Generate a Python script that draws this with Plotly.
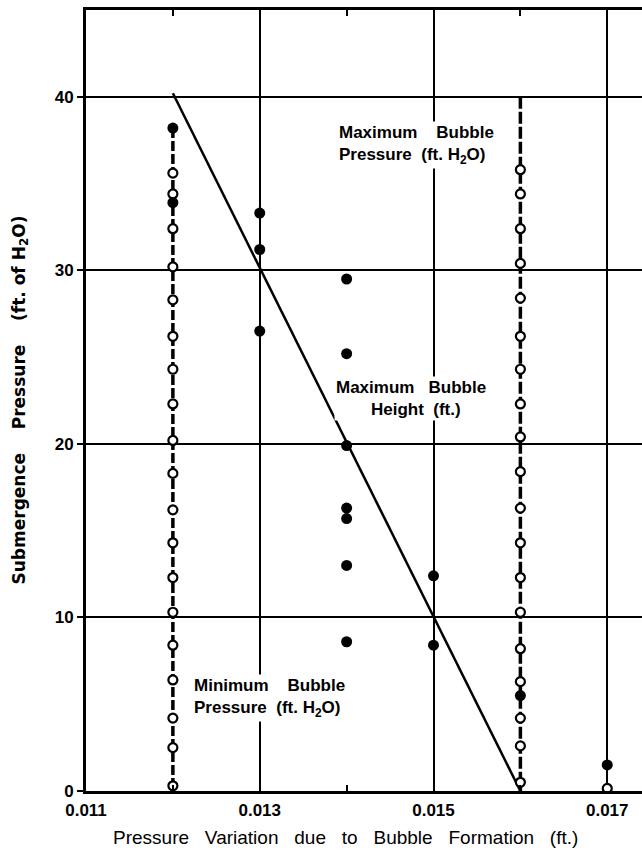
import plotly.graph_objects as go

# ---- data ----
X_MIN_P = 0.012
MIN_P_Y = [0.3, 2.5, 4.2, 6.4, 8.4, 10.3, 12.3, 14.3, 16.2, 18.3, 20.2,
           22.3, 24.3, 26.2, 28.3, 30.2, 32.4, 34.4, 35.6]
MIN_P_LINE_Y = [38.2, 0.0]

X_MAX_P = 0.016
MAX_P_Y = [0.5, 2.6, 4.2, 6.3, 8.2, 10.3, 12.3, 14.3, 16.3, 18.4, 20.4,
           22.3, 24.3, 26.2, 28.4, 30.4, 32.4, 34.4, 35.8]
MAX_P_LINE_Y = [40.0, 0.0]

OPEN_EXTRA_X = [0.017]
OPEN_EXTRA_Y = [0.15]

HEIGHT_X = [0.012, 0.012,
            0.013, 0.013, 0.013,
            0.014, 0.014, 0.014, 0.014, 0.014, 0.014, 0.014,
            0.015, 0.015,
            0.016,
            0.017]
HEIGHT_Y = [38.2, 33.9,
            33.3, 31.2, 26.5,
            29.5, 25.2, 19.9, 16.3, 15.7, 13.0, 8.6,
            12.4, 8.4,
            5.5,
            1.5]

FIT_X = [0.012, 0.016]
FIT_Y = [40.2, 0.0]

X_TICKS = [0.011, 0.013, 0.015, 0.017]
X_TICK_TEXT = ["0.011", "0.013", "0.015", "0.017"]
X_MINOR = [0.012, 0.014, 0.016]
Y_TICKS = [0, 10, 20, 30, 40]

NB = "\u00a0"
BOLD = dict(family="Liberation Sans", size=17, color="black", weight="bold")

fig = go.Figure()

# vertical connecting lines for the pressure series
fig.add_trace(go.Scatter(x=[X_MIN_P] * len(MIN_P_LINE_Y), y=MIN_P_LINE_Y, mode="lines",
                         line=dict(color="black", width=3.5, dash="10px,3px"),
                         hoverinfo="skip"))
fig.add_trace(go.Scatter(x=[X_MAX_P] * len(MAX_P_LINE_Y), y=MAX_P_LINE_Y, mode="lines",
                         line=dict(color="black", width=3.5, dash="12px,3px"),
                         hoverinfo="skip"))
# fitted line for bubble height
fig.add_trace(go.Scatter(x=FIT_X, y=FIT_Y, mode="lines",
                         line=dict(color="black", width=2.5), hoverinfo="skip"))

open_marker = dict(symbol="circle", size=9, color="white",
                   line=dict(color="black", width=2.2))
fig.add_trace(go.Scatter(x=[X_MIN_P] * len(MIN_P_Y), y=MIN_P_Y, mode="markers",
                         marker=open_marker, cliponaxis=False,
                         name="Minimum Bubble Pressure"))
fig.add_trace(go.Scatter(x=[X_MAX_P] * len(MAX_P_Y), y=MAX_P_Y, mode="markers",
                         marker=open_marker, cliponaxis=False,
                         name="Maximum Bubble Pressure"))
fig.add_trace(go.Scatter(x=OPEN_EXTRA_X, y=OPEN_EXTRA_Y, mode="markers",
                         marker=open_marker, cliponaxis=False, showlegend=False))
fig.add_trace(go.Scatter(x=HEIGHT_X, y=HEIGHT_Y, mode="markers",
                         marker=dict(symbol="circle", size=11, color="black"),
                         cliponaxis=False, name="Maximum Bubble Height"))

ann_font = dict(family="Liberation Sans", size=17, color="black", weight="bold")
annotations = [
    dict(x=0.01389, y=37.2, xref="x", yref="y", xanchor="left", yanchor="middle",
         align="left", showarrow=False, bgcolor="white", borderpad=1, font=ann_font,
         text="Maximum" + NB * 4 + "Bubble<br>Pressure" + NB * 2 + "(ft." + NB + "H<sub>2</sub>O)"),
    dict(x=0.01474, y=22.6, xref="x", yref="y", xanchor="center", yanchor="middle",
         align="center", showarrow=False, bgcolor="white", borderpad=1, font=ann_font,
         text="Maximum" + NB * 3 + "Bubble<br>" + NB * 2 + "Height" + NB * 2 + "(ft.)"),
    dict(x=0.01222, y=5.35, xref="x", yref="y", xanchor="left", yanchor="middle",
         align="left", showarrow=False, bgcolor="white", borderpad=1, font=ann_font,
         text="Minimum" + NB * 4 + "Bubble<br>Pressure" + NB * 2 + "(ft." + NB + "H<sub>2</sub>O)"),
    # y-axis title
    dict(x=-0.1187, y=0.5, xref="paper", yref="paper", xanchor="center", yanchor="middle",
         textangle=-90, showarrow=False,
         font=dict(family="DejaVu Sans", size=17, color="black", weight="bold"),
         text="Submergence" + NB * 4 + "Pressure" + NB * 4 + "(ft." + NB + "of" + NB + "H<sub>2</sub>O)"),
    # x-axis title
    dict(x=0.4676, y=-0.060, xref="paper", yref="paper", xanchor="center", yanchor="middle",
         showarrow=False,
         font=dict(family="Liberation Sans", size=19, color="black"),
         text=(NB * 3).join(["Pressure", "Variation", "due", "to", "Bubble", "Formation", "(ft.)"])),
]

fig.update_layout(
    width=642, height=860,
    margin=dict(l=86, r=0, t=10, b=69),
    paper_bgcolor="white", plot_bgcolor="white",
    showlegend=False,
    annotations=annotations,
    xaxis=dict(range=[0.011, 0.0174], tickvals=X_TICKS, ticktext=X_TICK_TEXT,
               showgrid=True, gridcolor="black", gridwidth=2,
               showline=True, linecolor="black", linewidth=3, mirror="ticks",
               ticks="", tickfont=BOLD, zeroline=False, ticklabelstandoff=2,
               minor=dict(tickvals=X_MINOR, ticks="inside", ticklen=6,
                          tickwidth=2, tickcolor="black", showgrid=False)),
    yaxis=dict(range=[0, 45], tickvals=Y_TICKS,
               showgrid=True, gridcolor="black", gridwidth=2,
               showline=True, linecolor="black", linewidth=3,
               ticks="outside", ticklen=6, tickwidth=2, tickcolor="black",
               tickfont=BOLD, zeroline=False),
)

fig.write_html(
    "out.html",
    config={"displayModeBar": False},
    post_script="document.body.style.margin='0';document.body.style.overflow='hidden';",
)
